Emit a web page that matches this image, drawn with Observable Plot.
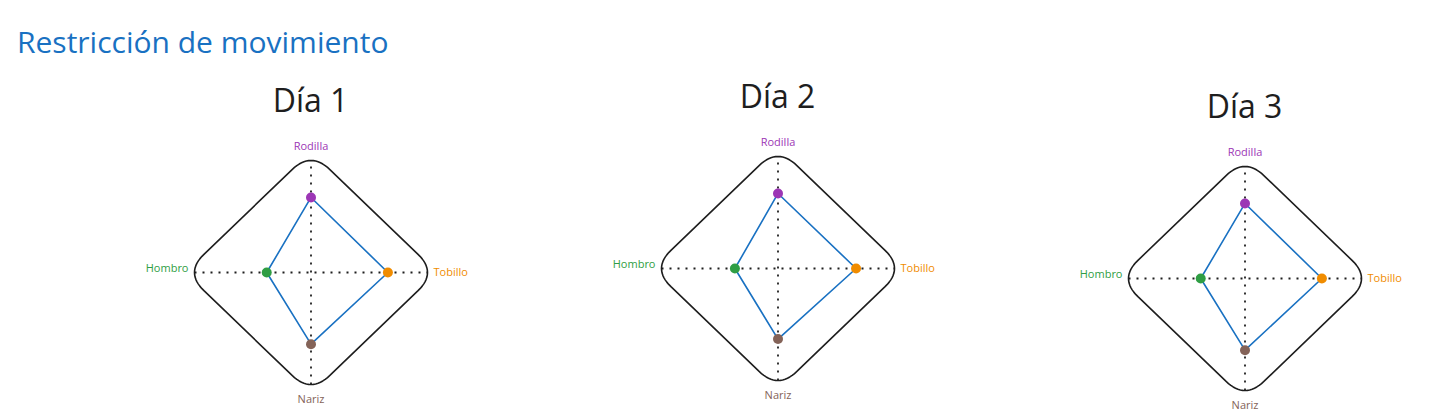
<!DOCTYPE html>
<html>
<head>
<meta charset="utf-8">
<script src="https://cdn.jsdelivr.net/npm/d3@7"></script>
<script src="https://cdn.jsdelivr.net/npm/@observablehq/plot@0.6"></script>
<style>
  body { margin: 0; background: #ffffff; font-family: "Open Sans", sans-serif; }
  #page { position: relative; width: 1431px; height: 420px; overflow: hidden; }
  #main-title { position: absolute; left: 17px; top: 22px; line-height: 40px; font-size: 30px; color: #1971c2; white-space: nowrap; }
  .chart { position: absolute; width: 467px; }
  .chart-title { height: 40px; line-height: 40px; font-size: 32px; text-align: center; color: #1e1e1e; }
  .chart svg { display: block; }
</style>
</head>
<body>
<div id="page">
  <div id="main-title">Restricción de movimiento</div>
</div>
<script>
// ---- data ----
const categories = ["Rodilla", "Tobillo", "Nariz", "Hombro"];
const categoryColors = ["#9c36b5", "#f08c00", "#846358", "#2f9e44"];
const days = ["Día 1", "Día 2", "Día 3"];
const dia1 = [67, 66, 64, 38];
const dia2 = [67, 67, 63, 37];
const dia3 = [67, 66, 64, 38];
const seriesByDay = [dia1, dia2, dia3];
const axisMax = 100;

// ---- layout ----
const chartLeft = [77, 544, 1011];
const chartTop = [80, 76, 86];

const page = document.getElementById("page");

// direction of each category axis (up, right, down, left)
function dir(i) {
  const a = i * Math.PI / 2;
  return [Math.sin(a), Math.cos(a)];
}

// rounded diamond outline built from the axis maximum
function roundedDiamond(max, s, steps) {
  const k = max / (1 - s / 2);
  const verts = categories.map((_, i) => { const [dx, dy] = dir(i); return [dx * k, dy * k]; });
  const pts = [];
  const n = verts.length;
  for (let i = 0; i < n; i++) {
    const V = verts[i], P = verts[(i + n - 1) % n], N = verts[(i + 1) % n];
    const P1 = [V[0] + s * (P[0] - V[0]), V[1] + s * (P[1] - V[1])];
    const P2 = [V[0] + s * (N[0] - V[0]), V[1] + s * (N[1] - V[1])];
    for (let j = 0; j <= steps; j++) {
      const t = j / steps;
      const a = (1 - t) * (1 - t), b = 2 * t * (1 - t), c = t * t;
      pts.push({x: a * P1[0] + b * V[0] + c * P2[0], y: a * P1[1] + b * V[1] + c * P2[1]});
    }
  }
  return pts;
}

const frame = roundedDiamond(axisMax, 0.15, 16);
const axes = [
  {x1: 0, y1: -axisMax, x2: 0, y2: axisMax},
  {x1: -axisMax, y1: 0, x2: axisMax, y2: 0}
];
const labels = categories.map((c, i) => { const [dx, dy] = dir(i); return {name: c, x: dx * axisMax, y: dy * axisMax, color: categoryColors[i], i}; });

days.forEach((day, d) => {
  const values = seriesByDay[d];
  const pts = values.map((v, i) => { const [dx, dy] = dir(i); return {name: categories[i], x: dx * v, y: dy * v, color: categoryColors[i]}; });

  const wrap = document.createElement("div");
  wrap.className = "chart";
  wrap.style.left = chartLeft[d] + "px";
  wrap.style.top = chartTop[d] + "px";
  const t = document.createElement("div");
  t.className = "chart-title";
  t.textContent = day;
  wrap.appendChild(t);

  const svg = Plot.plot({
    width: 467,
    height: 300,
    x: {domain: [-axisMax, axisMax], range: [117, 350], axis: null},
    y: {domain: [-axisMax, axisMax], range: [264, 40], axis: null},
    style: {background: "transparent", fontFamily: "'Open Sans', sans-serif", overflow: "visible"},
    marks: [
      Plot.line(frame, {x: "x", y: "y", curve: "linear-closed", stroke: "#1e1e1e", strokeWidth: 1.6}),
      Plot.link(axes, {x1: "x1", y1: "y1", x2: "x2", y2: "y2", stroke: "#1e1e1e", strokeWidth: 1.8, strokeDasharray: "2 6"}),
      Plot.line(pts, {x: "x", y: "y", curve: "linear-closed", stroke: "#1971c2", strokeWidth: 1.6}),
      Plot.dot(pts, {x: "x", y: "y", r: 5, fill: "color", stroke: "none"}),
      Plot.text(labels.filter(l => l.i === 0), {x: "x", y: "y", text: "name", fill: "color", fontSize: 11, dy: -14}),
      Plot.text(labels.filter(l => l.i === 1), {x: "x", y: "y", text: "name", fill: "color", fontSize: 11, textAnchor: "start", dx: 6}),
      Plot.text(labels.filter(l => l.i === 2), {x: "x", y: "y", text: "name", fill: "color", fontSize: 11, dy: 15}),
      Plot.text(labels.filter(l => l.i === 3), {x: "x", y: "y", text: "name", fill: "color", fontSize: 11, textAnchor: "end", dx: -6, dy: -4})
    ]
  });
  wrap.appendChild(svg);
  page.appendChild(wrap);
});
</script>
</body>
</html>
